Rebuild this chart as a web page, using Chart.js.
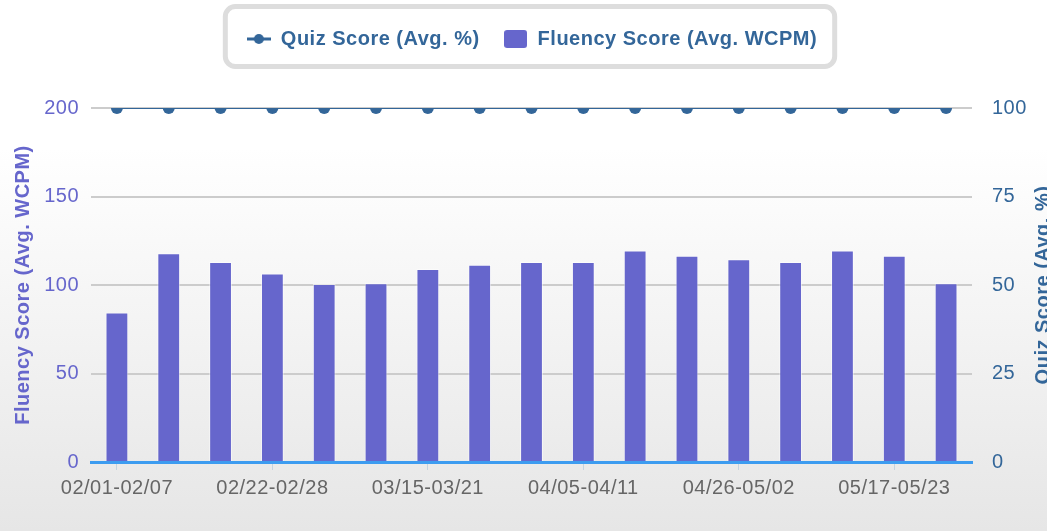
<!DOCTYPE html>
<html>
<head>
<meta charset="utf-8">
<script src="https://cdn.jsdelivr.net/npm/chart.js@4.4.1/dist/chart.umd.min.js"></script>
<style>
  html, body { margin: 0; padding: 0; }
  body {
    width: 1047px; height: 531px; overflow: hidden;
    background: linear-gradient(to bottom, #ffffff 0%, #ffffff 28%, #e6e6e6 100%);
  }
  canvas { display: block; }
</style>
</head>
<body>
<canvas id="quizChart" width="1047" height="531"></canvas>
<script>
// datos del grafico
const semanas = ['02/01-02/07', '02/08-02/14', '02/15-02/21', '02/22-02/28', '03/01-03/07', '03/08-03/14',
    '03/15-03/21', '03/22-03/28', '03/29-04/04', '04/05-04/11', '04/12-04/18', '04/19-04/25',
    '04/26-05/02', '05/03-05/09', '05/10-05/16', '05/17-05/23', '05/24-05/30'];
const quizScore = [100, 100, 100, 100, 100, 100, 100, 100, 100, 100, 100, 100, 100, 100, 100, 100, 100];
const fluencyScore = [84.5, 118, 113, 106.5, 100.5, 101, 109, 111.5, 113, 113, 119.5, 116.5, 114.5, 113, 119.5, 116.5, 101];
const fluencyTicks = [0, 50, 100, 150, 200];
const quizTicks = [0, 25, 50, 75, 100];

const AZUL = '#336699';
const MORADO = '#6666cc';
const FUENTE = "'Liberation Sans', Arial, sans-serif";

// iconos de la leyenda
function iconoLinea() {
    const c = document.createElement('canvas');
    c.width = 24; c.height = 12;
    const ctx = c.getContext('2d');
    ctx.strokeStyle = AZUL;
    ctx.lineWidth = 3;
    ctx.beginPath(); ctx.moveTo(0, 6); ctx.lineTo(24, 6); ctx.stroke();
    ctx.fillStyle = AZUL;
    ctx.beginPath(); ctx.arc(12, 6, 5, 0, Math.PI * 2); ctx.fill();
    return c;
}
function iconoBarra() {
    const c = document.createElement('canvas');
    c.width = 23; c.height = 18;
    const ctx = c.getContext('2d');
    ctx.fillStyle = MORADO;
    ctx.beginPath(); ctx.roundRect(0, 0, 23, 18, 3); ctx.fill();
    return c;
}

// un poco de espacio entre letras, como en el original
function espaciado(chart) {
    chart.ctx.letterSpacing = '0.5px';
}

// caja de la leyenda y titulo del eje derecho
const extras = {
    id: 'extras',
    beforeInit(chart) {
        const fitOriginal = chart.legend.fit;
        chart.legend.fit = function () {
            fitOriginal.call(this);
            this.height += 49;
        };
    },
    beforeUpdate(chart) { espaciado(chart); },
    beforeDraw(chart) {
        espaciado(chart);
        const hb = chart.legend.legendHitBoxes;
        if (!hb || !hb.length) return;
        const izq = Math.min(...hb.map(h => h.left)) - 21.5;
        const der = Math.max(...hb.map(h => h.left + h.width)) + 17.5;
        const arr = hb[0].top - 22.5;
        const aba = hb[0].top + hb[0].height + 17.5;
        const ctx = chart.ctx;
        ctx.save();
        ctx.beginPath();
        ctx.roundRect(izq, arr, der - izq, aba - arr, 10);
        ctx.fillStyle = '#ffffff';
        ctx.fill();
        ctx.lineWidth = 5;
        ctx.strokeStyle = '#dddddd';
        ctx.stroke();
        ctx.restore();
    },
    afterDraw(chart) {
        const ctx = chart.ctx;
        const area = chart.chartArea;
        ctx.save();
        ctx.translate(1043, (area.top + area.bottom) / 2);
        ctx.rotate(-Math.PI / 2);
        ctx.font = 'bold 20px ' + FUENTE;
        ctx.fillStyle = AZUL;
        ctx.textAlign = 'center';
        ctx.textBaseline = 'middle';
        ctx.fillText('Quiz Score (Avg. %)', 0, 0);
        ctx.restore();
    }
};

document.addEventListener('DOMContentLoaded', () => {
    new Chart(document.getElementById('quizChart'), {
        data: {
            labels: semanas,
            datasets: [
                {
                    type: 'line', label: 'Quiz Score (Avg. %)', data: quizScore, yAxisID: 'y1',
                    borderColor: AZUL, backgroundColor: AZUL, borderWidth: 2,
                    pointRadius: 6, pointBackgroundColor: AZUL, pointBorderWidth: 0,
                },
                {
                    type: 'bar', label: 'Fluency Score (Avg. WCPM)', data: fluencyScore, yAxisID: 'y',
                    backgroundColor: MORADO, borderColor: 'rgba(255,255,255,0.55)', borderWidth: 1,
                    barPercentage: 0.88, categoryPercentage: 0.5,
                },
            ],
        },
        options: {
            responsive: false,
            devicePixelRatio: 1,
            animation: false,
            layout: {padding: {left: 17, right: 0, top: 5, bottom: 0}},
            plugins: {
                tooltip: {enabled: false},
                legend: {
                    position: 'top',
                    labels: {
                        usePointStyle: true, pointStyleWidth: 24, padding: 24,
                        color: AZUL, font: {family: FUENTE, size: 20, weight: 'bold'},
                        generateLabels: (chart) => chart.data.datasets.map((ds, i) => ({
                            text: ds.label, datasetIndex: i, fontColor: AZUL,
                            pointStyle: i === 0 ? iconoLinea() : iconoBarra(),
                            hidden: !chart.isDatasetVisible(i), lineWidth: 0,
                        })),
                    },
                },
            },
            scales: {
                x: {
                    afterFit: s => { s.height = 69; },
                    afterBuildTicks: s => { s.ticks = s.ticks.filter((t, i) => i % 3 === 0); },
                    grid: {offset: false, drawOnChartArea: false, drawTicks: true, tickLength: 8, color: '#c5d3e0'},
                    border: {display: true, color: '#3d9cf0', width: 3},
                    ticks: {autoSkip: false, maxRotation: 0, padding: 6, color: '#666666', font: {family: FUENTE, size: 20}},
                },
                y: {
                    position: 'left', min: 0, max: 200,
                    afterFit: s => { s.width = 74; },
                    afterBuildTicks: s => { s.ticks = fluencyTicks.map(v => ({value: v})); },
                    grid: {color: '#cccccc', lineWidth: 2, drawTicks: false},
                    border: {display: false},
                    ticks: {padding: 12, color: MORADO, font: {family: FUENTE, size: 20}},
                    title: {
                        display: true, text: 'Fluency Score (Avg. WCPM)', color: MORADO,
                        font: {family: FUENTE, size: 20, weight: 'bold', lineHeight: 1},
                        padding: {top: -4, bottom: 0},
                    },
                },
                y1: {
                    position: 'right', min: 0, max: 100,
                    afterFit: s => { s.width = 75; },
                    afterBuildTicks: s => { s.ticks = quizTicks.map(v => ({value: v})); },
                    grid: {display: false},
                    border: {display: false},
                    ticks: {padding: 12, color: AZUL, font: {family: FUENTE, size: 20}},
                },
            },
        },
        plugins: [extras],
    });
});
</script>
</body>
</html>
